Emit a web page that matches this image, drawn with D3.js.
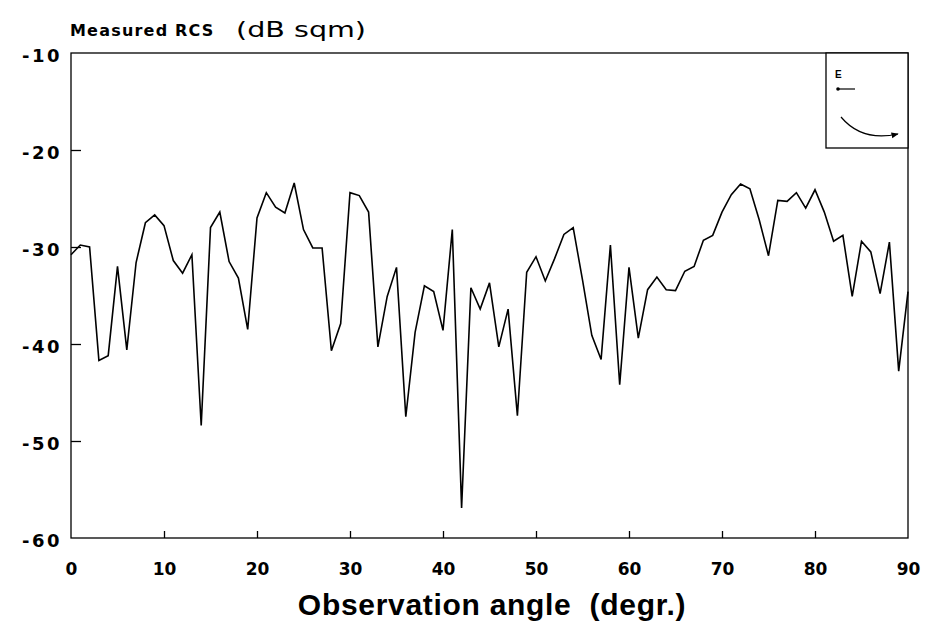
<!DOCTYPE html>
<html>
<head>
<meta charset="utf-8">
<script src="https://cdn.jsdelivr.net/npm/d3@7"></script>
<style>
  body { margin: 0; background: #fff; }
  text { font-family: "Liberation Sans", Arial, sans-serif; fill: #000; }
</style>
</head>
<body>
<svg id="chart" width="927" height="635"></svg>
<script>
// observation angle in degrees (1 degree steps)
var angles = d3.range(0, 91);
// measured RCS, dB sqm
var rcs = [
  -30.8, -29.8, -30.0, -41.7, -41.2, -32.0, -40.6, -31.6, -27.5, -26.7,
  -27.8, -31.4, -32.7, -30.8, -48.4, -28.0, -26.4, -31.5, -33.2, -38.5,
  -27.0, -24.4, -25.9, -26.5, -23.4, -28.2, -30.1, -30.1, -40.7, -37.9,
  -24.4, -24.7, -26.4, -40.3, -35.1, -32.1, -47.5, -38.8, -34.0, -34.6,
  -38.6, -28.2, -56.9, -34.2, -36.4, -33.7, -40.3, -36.4, -47.4, -32.6,
  -31.0, -33.5, -31.2, -28.7, -28.0, -33.4, -39.1, -41.6, -29.8, -44.2,
  -32.1, -39.4, -34.4, -33.1, -34.4, -34.5, -32.5, -32.0, -29.3, -28.8,
  -26.4, -24.6, -23.5, -24.0, -27.2, -30.9, -25.2, -25.3, -24.4, -26.0,
  -24.1, -26.4, -29.4, -28.8, -35.1, -29.4, -30.5, -34.8, -29.5, -42.8,
  -34.6
];
var xTicks = [0, 10, 20, 30, 40, 50, 60, 70, 80, 90];
var yTicks = [-10, -20, -30, -40, -50, -60];

var svg = d3.select("#chart");
var margin = { top: 53, left: 71, right: 19, bottom: 97 };
var width = 927 - margin.left - margin.right;
var height = 635 - margin.top - margin.bottom;

var x = d3.scaleLinear().domain([0, 90]).range([margin.left, margin.left + width]);
var y = d3.scaleLinear().domain([-60, -10]).range([margin.top + height, margin.top]);

// frame
svg.append("rect")
  .attr("x", margin.left)
  .attr("y", margin.top)
  .attr("width", width)
  .attr("height", height)
  .style("fill", "none")
  .style("stroke", "#000")
  .style("stroke-width", 1.3);

// axes, ticks pointing inwards
var xAxis = svg.append("g")
  .attr("transform", "translate(0," + (margin.top + height) + ")")
  .call(d3.axisBottom(x).tickValues(xTicks).tickSize(-7).tickPadding(25).tickFormat(d3.format("d")));
var yAxis = svg.append("g")
  .attr("transform", "translate(" + margin.left + ",0)")
  .call(d3.axisLeft(y).tickValues(yTicks).tickSize(-10).tickPadding(9)
    .tickFormat(function (d) { return "-" + Math.abs(d); }));

[xAxis, yAxis].forEach(function (g) {
  g.select(".domain").remove();
  g.selectAll(".tick line").style("stroke", "#000").style("stroke-width", 1.3);
  g.selectAll(".tick text")
    .style("font-family", '"DejaVu Sans", sans-serif')
    .style("font-weight", "bold")
    .style("fill", "#000");
});
xAxis.selectAll(".tick text").style("font-size", "17px");
yAxis.selectAll(".tick text")
  .style("font-size", "18px")
  .style("letter-spacing", "2.5px")
  .attr("dy", "0.45em");
// no tick marks at the frame ends
xAxis.selectAll(".tick line").filter(function (d) { return d == 0 || d == 90; }).remove();
yAxis.selectAll(".tick line").filter(function (d) { return d == -10 || d == -60; }).remove();

// the measured curve
var line = d3.line()
  .x(function (d, i) { return x(angles[i]); })
  .y(function (d) { return y(d); });

svg.append("path")
  .datum(rcs)
  .attr("d", line)
  .style("fill", "none")
  .style("stroke", "#000")
  .style("stroke-width", 1.6)
  .style("stroke-linejoin", "miter");

// axis titles
svg.append("text")
  .attr("x", 70)
  .attr("y", 36)
  .style("font-family", '"DejaVu Sans", sans-serif')
  .style("font-size", "16px")
  .style("font-weight", "bold")
  .style("letter-spacing", "1.2px")
  .text("Measured RCS");
svg.append("text")
  .attr("transform", "translate(236,37) scale(1.3,1)")
  .style("font-family", '"DejaVu Sans", sans-serif')
  .style("font-size", "22px")
  .attr("xml:space", "preserve")
  .text("(dB sqm)");

svg.append("text")
  .attr("x", 492)
  .attr("y", 615)
  .style("text-anchor", "middle")
  .style("font-size", "30px")
  .style("font-weight", "bold")
  .style("letter-spacing", "0.7px")
  .attr("xml:space", "preserve")
  .text("Observation angle  (degr.)");

// inset with the polarisation sketch
var inset = svg.append("g").attr("class", "inset");
inset.append("rect")
  .attr("x", 826)
  .attr("y", margin.top)
  .attr("width", margin.left + width - 826)
  .attr("height", 95)
  .style("fill", "#fff")
  .style("stroke", "#000")
  .style("stroke-width", 1.3);
inset.append("text")
  .attr("x", 835)
  .attr("y", 78)
  .style("font-size", "10px")
  .style("font-weight", "bold")
  .text("E");
inset.append("line")
  .attr("x1", 838).attr("y1", 89)
  .attr("x2", 855).attr("y2", 89)
  .style("stroke", "#000")
  .style("stroke-width", 1.2);
inset.append("circle")
  .attr("cx", 838).attr("cy", 89).attr("r", 1.8)
  .style("fill", "#000");

var defs = svg.append("defs");
defs.append("marker")
  .attr("id", "arrowHead")
  .attr("viewBox", "0 0 10 10")
  .attr("refX", 9).attr("refY", 5)
  .attr("markerWidth", 6).attr("markerHeight", 6)
  .attr("orient", "auto")
  .append("path")
  .attr("d", "M0,1 L10,5 L0,9 Z")
  .style("fill", "#000");

inset.append("path")
  .attr("d", "M841,117 Q862,142 898,134")
  .style("fill", "none")
  .style("stroke", "#000")
  .style("stroke-width", 1.2)
  .attr("marker-end", "url(#arrowHead)");
</script>
</body>
</html>
